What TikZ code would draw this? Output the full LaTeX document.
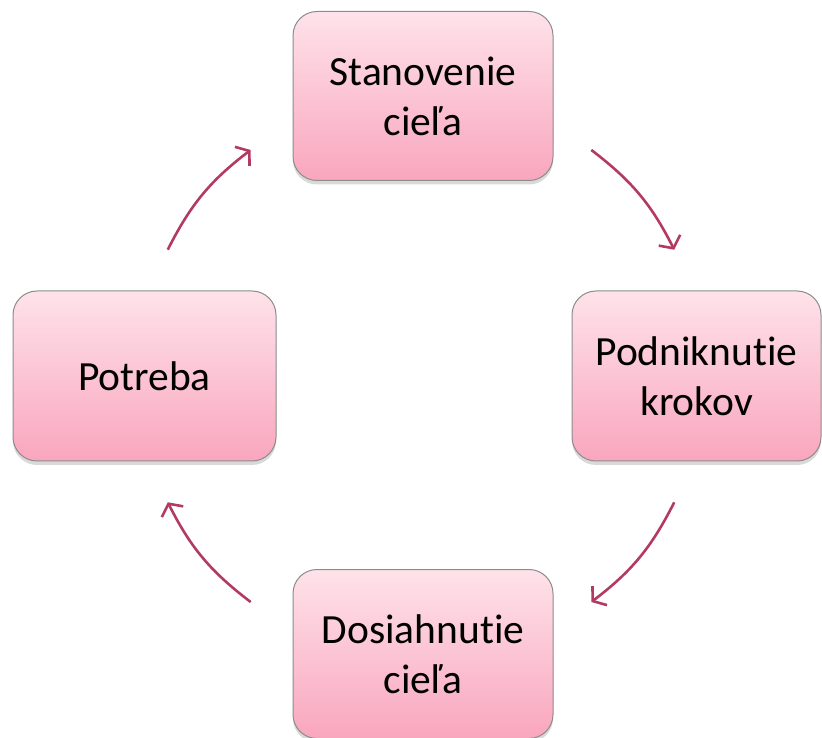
\documentclass[tikz,border=0pt]{standalone}
\usepackage{fontspec}
\setmainfont[Ligatures={NoCommon,NoRequired}]{Carlito}
\usepackage{tikz}
\usepackage{xcolor}
\usetikzlibrary{shapes, positioning, shadows, calc, arrows.meta}

\definecolor{ruzovaHore}{RGB}{254,226,234}
\definecolor{ruzovaDole}{RGB}{249,166,190}
\definecolor{okraj}{RGB}{140,140,140}
\definecolor{sipka}{RGB}{178,58,100}

\begin{document}
\begin{tikzpicture}[x=1pt, y=1pt,
        krok/.style={draw=okraj, line width=1pt, rounded corners=24pt,
            top color=ruzovaHore, bottom color=ruzovaDole,
            drop shadow={shadow xshift=0pt, shadow yshift=-4pt, opacity=0.3},
            align=center, font=\fontsize{41.5}{50}\selectfont, inner sep=0pt},
        sip/.style={draw=sipka, line width=2.6pt, -{Straight Barb[length=9pt, width=24pt, line width=2.6pt]}}]
        \useasboundingbox (0,0) rectangle (822,737);

        \node[krok, minimum width=260pt, minimum height=169pt] (ciel) at (423, 641) {Stanovenie\\cieľa};
        \node[krok, minimum width=249pt, minimum height=170pt] (kroky) at (696.5, 361) {Podniknutie\\krokov};
        \node[krok, minimum width=260pt, minimum height=169pt] (dosiahnutie) at (423, 83) {Dosiahnutie\\cieľa};
        \node[krok, minimum width=263pt, minimum height=170pt] (potreba) at (144.5, 361) {Potreba};

        \coordinate (stred) at (421, 361);
        \coordinate (a1) at ($(stred)+(53:283)$);
        \coordinate (a2) at ($(stred)+(26.5:283)$);
        \coordinate (b1) at ($(stred)+(-26.5:283)$);
        \coordinate (b2) at ($(stred)+(-53:283)$);
        \coordinate (c1) at ($(stred)+(-127:283)$);
        \coordinate (c2) at ($(stred)+(-153.5:283)$);
        \coordinate (d1) at ($(stred)+(153.5:283)$);
        \coordinate (d2) at ($(stred)+(127:283)$);

        \draw[sip] (a1) to[bend left=13] (a2);
        \draw[sip] (b1) to[bend left=13] (b2);
        \draw[sip] (c1) to[bend left=13] (c2);
        \draw[sip] (d1) to[bend left=13] (d2);
    \end{tikzpicture}
\end{document}
